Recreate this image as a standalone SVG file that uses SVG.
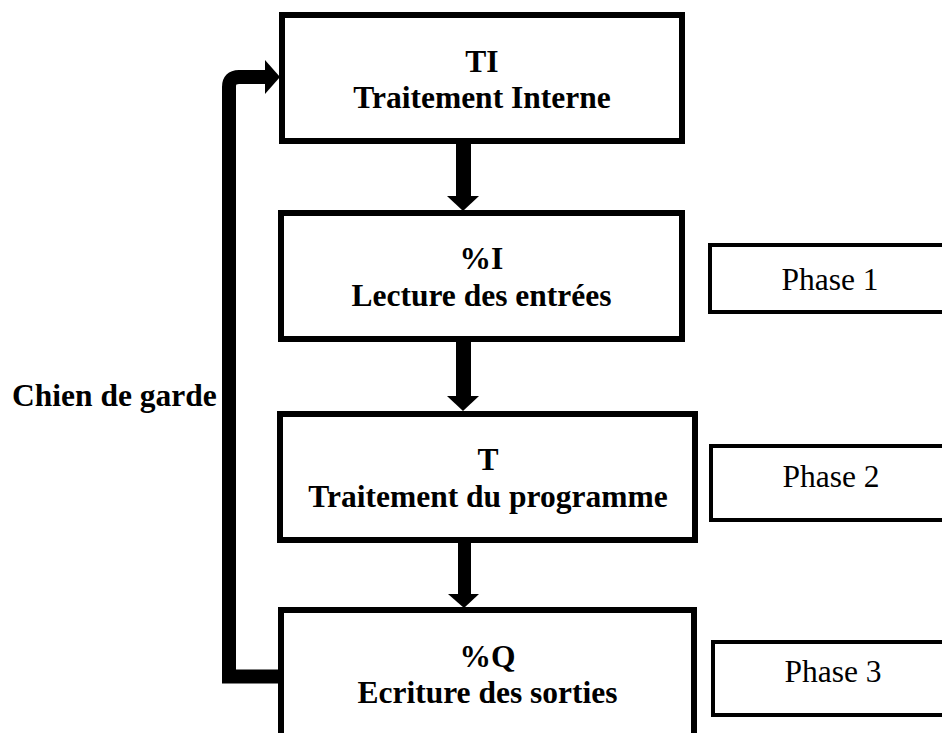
<svg xmlns="http://www.w3.org/2000/svg" width="942" height="733" viewBox="0 0 942 733">
<style>
.box{fill:#fff;stroke:#000;stroke-width:6}
.ph{fill:#fff;stroke:#000;stroke-width:4}
.b{font-family:"Liberation Serif","Times New Roman",serif;font-weight:bold;font-size:31.5px;fill:#000;text-anchor:middle}
.r{font-family:"Liberation Serif","Times New Roman",serif;font-size:31.5px;fill:#000;text-anchor:middle}
.arr{fill:#000}
</style>
<rect width="942" height="733" fill="#fff"/>
<g id="connectors">
<path d="M278,676.5 H229 V87 Q229,77 239,77 H266" fill="none" stroke="#000" stroke-width="14"/>
<polygon class="arr" points="265,60 280,77 265,94"/>
<rect class="arr" x="456" y="144" width="15" height="53"/>
<polygon class="arr" points="447,196 479,196 463,211"/>
<rect class="arr" x="456" y="342" width="15" height="55"/>
<polygon class="arr" points="447,396 479,396 463,411"/>
<rect class="arr" x="458" y="543" width="13" height="52"/>
<polygon class="arr" points="448,594 479,594 464,608"/>
</g>
<g id="node-ti">
<rect class="box" x="282" y="15" width="400" height="126"/>
<text class="b" x="482" y="72">TI</text>
<text class="b" x="482" y="108">Traitement Interne</text>
</g>
<g id="node-i">
<rect class="box" x="281" y="213" width="401" height="126"/>
<text class="b" x="481.5" y="269">%I</text>
<text class="b" x="481.5" y="306">Lecture des entrées</text>
</g>
<g id="node-t">
<rect class="box" x="280" y="414" width="415" height="126"/>
<text class="b" x="488" y="470">T</text>
<text class="b" x="488" y="507">Traitement du programme</text>
</g>
<g id="node-q">
<rect class="box" x="281" y="610" width="413" height="135"/>
<text class="b" x="487.5" y="667">%Q</text>
<text class="b" x="487.5" y="703">Ecriture des sorties</text>
</g>
<g id="label-chien">
<text class="b" x="12" y="406" style="text-anchor:start">Chien de garde</text>
</g>
<g id="node-phase1">
<rect class="ph" x="710" y="245" width="260" height="67"/>
<text class="r" x="830" y="290">Phase 1</text>
</g>
<g id="node-phase2">
<rect class="ph" x="711" y="446" width="260" height="74"/>
<text class="r" x="831" y="487">Phase 2</text>
</g>
<g id="node-phase3">
<rect class="ph" x="713" y="642" width="260" height="73"/>
<text class="r" x="833" y="682">Phase 3</text>
</g>
</svg>
